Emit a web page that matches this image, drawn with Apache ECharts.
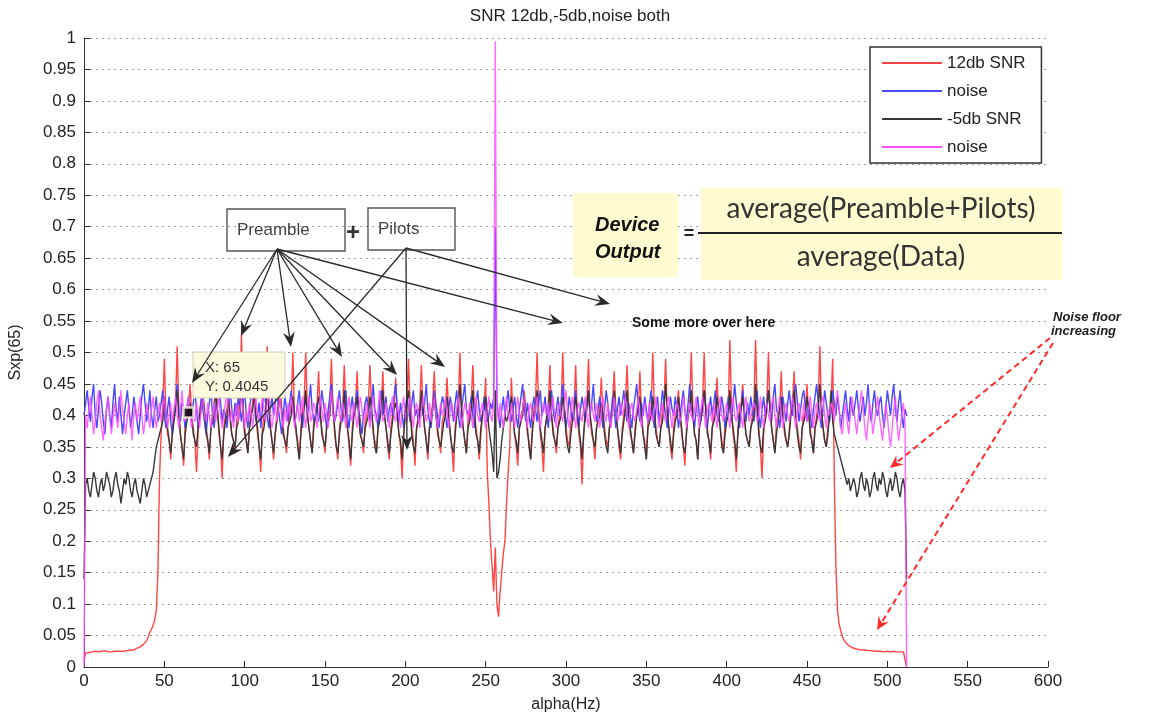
<!DOCTYPE html>
<html>
<head>
<meta charset="utf-8">
<script src="https://cdn.jsdelivr.net/npm/echarts/dist/echarts.min.js"></script>
<style>html,body{margin:0;padding:0;background:#fff}#chart{width:1152px;height:721px}</style>
</head>
<body>
<div id="chart"></div>
<script>
// ---------- DATA (alpha in Hz, one sample per Hz, 0..512) ----------
const alphaStepHz = 1;
const xRange = [0, 600, 50];
const yRange = [0, 1, 0.05];
const titleText = 'SNR 12db,-5db,noise both';
const xName = 'alpha(Hz)';
const yName = 'Sxp(65)';
const legendLabels = ['12db SNR', 'noise', '-5db SNR', 'noise'];

const red12dbSNR = [
.01,.022,.024,.023,.025,.024,.023,.025,.026,.024,.023,.025,.024,.026,.025,.024,
.025,.024,.025,.025,.024,.025,.026,.025,.024,.025,.025,.026,.026,.027,.027,.027,
.028,.03,.031,.032,.034,.036,.038,.042,.048,.055,.06,.066,.075,.09,.15,.3,
.37,.41,.49,.40,.37,.36,.33,.38,.40,.42,.51,.41,.37,.35,.32,.39,
.40,.41,.45,.40,.38,.36,.31,.37,.41,.42,.44,.40,.37,.36,.33,.38,
.40,.42,.46,.41,.37,.35,.30,.38,.40,.41,.44,.39,.37,.36,.34,.39,
.41,.42,.53,.41,.38,.36,.34,.38,.40,.42,.47,.40,.37,.35,.31,.38,
.40,.41,.51,.42,.38,.36,.33,.37,.40,.42,.46,.41,.38,.36,.34,.38,
.40,.42,.50,.40,.37,.36,.33,.38,.41,.42,.50,.41,.38,.36,.34,.39,
.40,.41,.47,.40,.38,.36,.34,.38,.40,.42,.49,.41,.37,.35,.33,.38,
.40,.41,.48,.41,.38,.35,.32,.38,.41,.42,.47,.40,.37,.36,.34,.39,
.40,.42,.48,.41,.37,.36,.34,.38,.40,.41,.47,.40,.38,.35,.33,.38,
.40,.41,.46,.40,.37,.35,.30,.37,.41,.42,.49,.41,.38,.36,.32,.38,
.40,.42,.48,.41,.38,.36,.33,.38,.40,.42,.47,.41,.37,.36,.34,.39,
.40,.41,.46,.40,.37,.35,.31,.38,.41,.42,.50,.41,.38,.36,.34,.39,
.40,.42,.48,.41,.38,.36,.33,.37,.40,.41,.46,.31,.26,.20,.16,.12,
.19,.10,.08,.12,.15,.18,.20,.26,.31,.35,.46,.40,.37,.35,.32,.38,
.40,.41,.44,.40,.37,.36,.33,.38,.41,.42,.50,.41,.37,.35,.31,.38,
.40,.42,.48,.40,.38,.36,.34,.38,.40,.42,.50,.41,.38,.36,.35,.39,
.40,.41,.48,.40,.37,.35,.29,.37,.41,.42,.49,.40,.37,.36,.33,.38,
.40,.41,.46,.40,.38,.36,.35,.38,.40,.42,.47,.41,.38,.35,.33,.38,
.40,.42,.48,.41,.37,.36,.34,.38,.40,.41,.47,.40,.37,.36,.33,.39,
.40,.41,.50,.41,.38,.36,.35,.38,.41,.42,.49,.40,.38,.35,.33,.38,
.40,.41,.44,.40,.37,.35,.32,.38,.40,.42,.50,.41,.37,.36,.33,.38,
.40,.42,.50,.41,.38,.36,.33,.38,.40,.41,.46,.40,.38,.36,.34,.39,
.40,.41,.52,.41,.37,.35,.31,.38,.41,.42,.45,.40,.37,.36,.35,.38,
.40,.42,.52,.41,.38,.35,.30,.37,.40,.42,.50,.41,.38,.36,.34,.39,
.40,.41,.47,.40,.37,.36,.35,.38,.41,.42,.47,.40,.38,.36,.33,.38,
.40,.41,.45,.40,.38,.36,.34,.38,.40,.42,.51,.41,.38,.36,.35,.38,
.40,.42,.49,.30,.16,.09,.068,.058,.048,.043,.039,.036,.034,.032,.031,.03,
.029,.029,.028,.028,.027,.027,.027,.026,.026,.026,.026,.025,.025,.025,.025,.025,
.025,.025,.024,.024,.025,.024,.024,.024,.025,.024,.024,.024,.024,.024,.024,.024,
0];

const noiseBlue = [
.40,.42,.44,.41,.39,.43,.45,.40,.38,.41,.44,.42,.39,.37,.41,.43,
.40,.38,.42,.45,.41,.39,.43,.40,.37,.40,.42,.44,.41,.38,.40,.43,
.41,.39,.37,.40,.43,.45,.42,.39,.41,.44,.40,.38,.41,.43,.39,.40,
.42,.44,.40,.38,.41,.43,.39,.37,.40,.42,.45,.41,.39,.42,.40,.38,
.41,.43,.40,.39,.42,.44,.41,.38,.40,.43,.41,.39,.37,.40,.42,.44,
.40,.38,.41,.43,.45,.42,.39,.41,.40,.38,.42,.44,.41,.39,.42,.40,
.43,.41,.39,.42,.44,.40,.38,.41,.43,.45,.42,.39,.40,.42,.38,.41,
.44,.42,.40,.38,.41,.43,.40,.42,.45,.41,.39,.37,.40,.43,.41,.39,
.42,.44,.41,.39,.40,.42,.44,.40,.38,.41,.43,.40,.42,.45,.41,.39,
.40,.42,.39,.41,.44,.42,.40,.38,.41,.43,.45,.41,.39,.40,.42,.44,
.41,.39,.42,.44,.40,.38,.41,.43,.40,.42,.44,.41,.39,.37,.40,.42,
.43,.41,.39,.42,.45,.41,.40,.38,.42,.44,.40,.41,.43,.39,.41,.42,
.40,.43,.45,.41,.39,.42,.40,.38,.41,.43,.41,.39,.42,.44,.40,.41,
.39,.41,.43,.40,.42,.45,.41,.39,.38,.41,.44,.42,.40,.38,.41,.43,
.42,.40,.38,.41,.43,.41,.39,.42,.44,.40,.38,.41,.43,.45,.41,.40,
.41,.43,.40,.38,.42,.44,.41,.39,.40,.43,.41,.39,.40,.42,.41,.43,
.70,.42,.40,.38,.41,.43,.40,.42,.44,.41,.39,.41,.43,.40,.38,.41,
.43,.45,.41,.39,.42,.40,.38,.41,.43,.41,.39,.42,.44,.40,.41,.43,
.40,.38,.42,.44,.41,.39,.41,.43,.40,.42,.45,.41,.38,.40,.43,.41,
.39,.42,.44,.40,.38,.41,.43,.41,.39,.42,.44,.40,.42,.45,.41,.39,
.41,.43,.40,.38,.41,.44,.42,.39,.40,.43,.41,.38,.41,.43,.40,.42,
.44,.41,.39,.42,.40,.38,.41,.43,.45,.41,.39,.42,.40,.43,.41,.39,
.42,.44,.40,.38,.41,.43,.39,.41,.44,.42,.40,.38,.41,.43,.41,.40,
.43,.41,.38,.40,.42,.44,.41,.39,.42,.45,.41,.40,.38,.41,.43,.40,
.39,.42,.44,.41,.38,.41,.43,.40,.42,.44,.40,.39,.41,.43,.41,.38,
.40,.43,.41,.39,.42,.45,.42,.40,.38,.41,.44,.41,.39,.42,.40,.43,
.41,.39,.42,.44,.40,.38,.41,.43,.40,.42,.44,.41,.39,.43,.45,.41,
.40,.38,.41,.43,.41,.39,.42,.44,.41,.40,.43,.45,.42,.39,.41,.43,
.44,.41,.39,.42,.40,.38,.41,.43,.45,.42,.40,.38,.41,.44,.42,.40,
.39,.41,.44,.42,.40,.43,.41,.38,.40,.42,.44,.41,.39,.43,.41,.40,
.42,.44,.41,.39,.41,.43,.40,.42,.45,.41,.39,.42,.44,.41,.40,.42,
.43,.40,.38,.41,.44,.42,.40,.43,.45,.41,.39,.42,.44,.40,.38,.41,
.40];

const black5dbSNR = [
.14,.29,.30,.28,.27,.29,.31,.30,.28,.27,.29,.30,.28,.29,.31,.30,
.29,.27,.28,.30,.31,.29,.28,.26,.28,.30,.29,.31,.30,.28,.27,.29,
.30,.28,.27,.26,.28,.30,.29,.27,.28,.29,.30,.31,.33,.35,.36,.37,
.37,.39,.43,.40,.38,.36,.34,.37,.39,.41,.44,.40,.37,.35,.33,.37,
.39,.40,.42,.40,.37,.36,.35,.38,.40,.41,.43,.41,.38,.36,.34,.38,
.38,.40,.44,.41,.38,.35,.33,.37,.39,.40,.42,.40,.37,.36,.35,.38,
.39,.41,.45,.40,.37,.36,.34,.38,.40,.41,.43,.40,.38,.35,.33,.37,
.38,.40,.44,.41,.38,.36,.34,.37,.39,.41,.43,.41,.37,.36,.35,.38,
.39,.40,.43,.40,.38,.35,.33,.37,.40,.41,.44,.40,.38,.36,.34,.38,
.38,.41,.43,.41,.37,.36,.35,.38,.39,.40,.44,.41,.38,.35,.34,.37,
.39,.40,.44,.40,.38,.36,.33,.37,.40,.41,.43,.40,.37,.36,.35,.38,
.38,.40,.43,.41,.38,.35,.34,.38,.39,.41,.44,.40,.38,.36,.34,.37,
.39,.41,.42,.40,.37,.36,.33,.37,.40,.40,.44,.41,.37,.35,.34,.38,
.38,.40,.44,.41,.38,.36,.34,.38,.39,.41,.43,.40,.38,.36,.35,.37,
.39,.40,.43,.40,.37,.35,.34,.37,.40,.41,.45,.41,.38,.36,.34,.38,
.39,.41,.44,.40,.37,.36,.34,.38,.40,.41,.43,.41,.38,.36,.34,.31,
.44,.30,.31,.33,.36,.38,.40,.39,.40,.41,.43,.40,.37,.36,.34,.38,
.39,.40,.43,.41,.38,.35,.33,.37,.40,.41,.44,.40,.38,.36,.34,.38,
.38,.41,.44,.40,.37,.36,.35,.38,.39,.40,.43,.41,.37,.35,.34,.37,
.39,.40,.43,.41,.38,.36,.33,.37,.40,.41,.44,.40,.38,.36,.35,.38,
.38,.40,.42,.40,.37,.35,.34,.38,.39,.41,.44,.41,.38,.36,.34,.37,
.39,.41,.44,.40,.38,.36,.34,.37,.40,.40,.43,.40,.37,.35,.33,.38,
.38,.40,.43,.41,.37,.36,.35,.38,.39,.41,.45,.41,.38,.36,.34,.37,
.39,.40,.43,.40,.38,.35,.34,.37,.40,.41,.44,.40,.37,.36,.33,.38,
.38,.41,.44,.41,.37,.36,.34,.38,.39,.40,.43,.41,.38,.35,.34,.37,
.39,.40,.44,.40,.38,.36,.33,.37,.40,.41,.43,.40,.37,.36,.35,.38,
.38,.40,.45,.41,.37,.35,.34,.38,.39,.41,.44,.41,.38,.36,.34,.37,
.39,.41,.43,.40,.38,.36,.35,.37,.40,.40,.44,.40,.37,.35,.34,.38,
.38,.40,.43,.41,.37,.36,.34,.38,.39,.41,.45,.41,.38,.36,.35,.37,
.40,.44,.39,.37,.36,.35,.34,.33,.32,.31,.30,.29,.30,.28,.29,.30,
.29,.27,.28,.30,.31,.29,.28,.30,.29,.27,.28,.30,.31,.29,.28,.30,
.29,.31,.30,.28,.27,.29,.30,.28,.29,.31,.30,.28,.27,.29,.30,.28,
.14];

const noiseMagenta = [
0,.40,.38,.41,.43,.40,.37,.39,.42,.44,.40,.38,.36,.39,.41,.43,
.40,.37,.39,.42,.40,.38,.41,.44,.41,.39,.37,.40,.42,.39,.36,.40,
.42,.39,.41,.43,.40,.37,.39,.42,.40,.38,.41,.43,.40,.38,.40,.42,
.39,.41,.43,.40,.38,.40,.42,.39,.41,.43,.40,.38,.41,.44,.40,.39,
.41,.43,.40,.38,.41,.39,.42,.40,.38,.41,.43,.40,.39,.42,.40,.38,
.40,.42,.39,.41,.43,.40,.38,.40,.42,.44,.40,.39,.41,.38,.40,.42,
.39,.41,.43,.40,.38,.41,.39,.42,.40,.38,.41,.43,.40,.39,.41,.43,
.41,.39,.42,.44,.40,.38,.40,.42,.39,.41,.43,.40,.38,.41,.39,.42,
.40,.43,.41,.38,.40,.42,.39,.41,.43,.40,.38,.41,.43,.39,.40,.42,
.41,.38,.40,.43,.41,.39,.42,.40,.38,.41,.44,.40,.39,.41,.43,.40,
.39,.42,.40,.38,.41,.43,.40,.39,.42,.40,.38,.41,.43,.41,.39,.40,
.42,.40,.38,.41,.43,.40,.39,.41,.44,.41,.39,.40,.42,.40,.38,.41,
.43,.40,.39,.42,.40,.38,.41,.43,.40,.39,.41,.43,.40,.38,.41,.42,
.40,.38,.41,.43,.41,.39,.40,.42,.39,.41,.43,.40,.38,.40,.42,.40,
.41,.43,.40,.38,.41,.42,.40,.39,.41,.43,.40,.38,.40,.42,.41,.39,
.42,.40,.38,.41,.43,.40,.39,.41,.42,.40,.38,.41,.43,.40,.39,.42,
.995,.41,.39,.42,.40,.38,.41,.43,.40,.39,.42,.40,.38,.41,.43,.40,
.39,.41,.43,.40,.38,.41,.42,.40,.39,.41,.43,.40,.38,.40,.42,.41,
.40,.42,.39,.41,.43,.40,.38,.41,.42,.40,.39,.42,.44,.40,.38,.41,
.43,.40,.38,.41,.42,.40,.39,.41,.43,.40,.38,.41,.42,.40,.39,.42,
.40,.38,.41,.43,.40,.39,.42,.40,.38,.41,.43,.41,.39,.40,.42,.40,
.41,.43,.40,.38,.41,.42,.40,.39,.41,.43,.40,.38,.41,.42,.40,.39,
.42,.40,.39,.41,.43,.40,.38,.41,.42,.40,.39,.42,.43,.40,.38,.41,
.40,.42,.41,.39,.40,.43,.41,.38,.40,.42,.40,.39,.41,.43,.40,.38,
.41,.43,.40,.38,.41,.42,.40,.39,.42,.40,.38,.41,.43,.40,.39,.41,
.42,.40,.38,.41,.43,.40,.39,.41,.42,.40,.38,.41,.43,.41,.39,.40,
.40,.42,.41,.39,.40,.43,.40,.38,.41,.42,.40,.39,.42,.43,.40,.38,
.41,.43,.40,.38,.41,.42,.40,.39,.41,.43,.40,.38,.41,.42,.40,.39,
.42,.40,.39,.41,.43,.40,.38,.41,.42,.40,.39,.42,.43,.40,.38,.41,
.40,.42,.41,.39,.42,.44,.41,.38,.37,.40,.42,.39,.37,.40,.43,.41,
.39,.37,.40,.42,.44,.41,.38,.36,.39,.42,.40,.37,.39,.41,.43,.40,
.38,.36,.39,.42,.40,.37,.35,.38,.41,.43,.39,.36,.38,.40,.42,.39,
0];

// data tip shown on the -5db SNR trace
const dataTipX = [65];
const dataTipY = [0.4045];

// ---------- STYLE ----------
const FONT = 'Liberation Sans';
const seriesColors = ['#ff4545', '#4848ff', '#383838', '#ff4dff'];
const seriesOpacity = [1, 1, 1, 0.85];
const seriesKeys = ['s12', 'n1', 's5', 'n2'];
const seriesData = [red12dbSNR, noiseBlue, black5dbSNR, noiseMagenta];

const toPairs = arr => arr.map((v, i) => [i * alphaStepHz, v]);

function arrow(x1, y1, x2, y2, color, width, dash, L, W) {
  const dx = x2 - x1, dy = y2 - y1, len = Math.hypot(dx, dy);
  const ux = dx / len, uy = dy / len;
  const bx = x2 - ux * L, by = y2 - uy * L;
  const nx = x2 - ux * L * 0.65, ny = y2 - uy * L * 0.65;
  return [
    {type: 'line', z: 100, shape: {x1: x1, y1: y1, x2: nx, y2: ny},
     style: {stroke: color, lineWidth: width, lineDash: dash || null}},
    {type: 'polygon', z: 101, shape: {points: [[x2, y2], [bx - uy * W, by + ux * W], [nx, ny], [bx + uy * W, by - ux * W]]},
     style: {fill: color}}
  ];
}
function txt(x, y, text, o) {
  o = o || {};
  const align = o.align || 'left';
  return {type: 'text', z: 102, x: x, y: y, style: {
    text: text, fill: o.color || '#222', fontSize: o.size || 16, fontFamily: o.family || FONT,
    fontWeight: o.weight || 'normal', fontStyle: o.style || 'normal',
    align: align, textAlign: align, verticalAlign: 'middle', textVerticalAlign: 'middle'}};
}
function box(x, y, w, h, fill, stroke, lw) {
  return {type: 'rect', z: 99, shape: {x: x, y: y, width: w, height: h},
          style: {fill: fill || 'transparent', stroke: stroke || null, lineWidth: lw || 0}};
}

const P0 = [277, 249], Q0 = [406, 248];
const blk = '#2a2a2a';
let graphics = [];
// data tip box
graphics.push(box(193, 352, 92, 46, '#fbfadf', '#cfcfb8', 1));
graphics.push(txt(205, 368, 'X: 65', {size: 15, color: '#333'}));
graphics.push(txt(205, 387, 'Y: 0.4045', {size: 15, color: '#333'}));
// Preamble + Pilots
graphics.push(box(227, 209, 118, 42, null, '#555', 1.4));
graphics.push(box(368, 208, 87, 42, null, '#555', 1.4));
graphics.push(txt(237, 230, 'Preamble', {size: 17, color: '#444'}));
graphics.push(txt(378, 229, 'Pilots', {size: 17, color: '#444'}));
graphics.push(txt(353, 233, '+', {size: 24, weight: 'bold', color: '#333', align: 'center'}));
// arrows from Preamble
[[192, 383], [241, 336], [291, 347], [342, 357], [397, 375], [445, 367], [563, 323]].forEach(p => {
  graphics = graphics.concat(arrow(P0[0], P0[1], p[0], p[1], blk, 1.3, null, 15, 6));
});
// arrows from Pilots
[[228, 457], [407, 450], [610, 304]].forEach(p => {
  graphics = graphics.concat(arrow(Q0[0], Q0[1], p[0], p[1], blk, 1.3, null, 15, 6));
});
// Device output formula
graphics.push(box(573, 193, 105, 84, '#fdfbcf'));
graphics.push(box(701, 188, 361, 92, '#fdfbcf'));
graphics.push(txt(595, 225, 'Device', {size: 20, weight: 'bold', style: 'italic', color: '#111'}));
graphics.push(txt(595, 252, 'Output', {size: 20, weight: 'bold', style: 'italic', color: '#111'}));
graphics.push(txt(689, 234, '=', {size: 18, weight: 'bold', color: '#222', align: 'center'}));
graphics.push(txt(881, 209, 'average(Preamble+Pilots)', {size: 28, family: 'Lato', color: '#333', align: 'center'}));
graphics.push({type: 'line', z: 100, shape: {x1: 698, y1: 233, x2: 1062, y2: 233}, style: {stroke: '#222', lineWidth: 2}});
graphics.push(txt(881, 257, 'average(Data)', {size: 28, family: 'Lato', color: '#333', align: 'center'}));
// other notes
graphics.push(txt(632, 323, 'Some more over here', {size: 14, weight: 'bold', color: '#111'}));
graphics.push(txt(1053, 317, 'Noise floor', {size: 13, weight: 'bold', style: 'italic', color: '#222'}));
graphics.push(txt(1051, 331, 'increasing', {size: 13, weight: 'bold', style: 'italic', color: '#222'}));
graphics = graphics.concat(arrow(1050, 338, 890, 468, '#ff2a2a', 2, [6, 4], 13, 6));
graphics = graphics.concat(arrow(1053, 343, 877, 630, '#ff2a2a', 2, [6, 4], 13, 6));

const series = seriesKeys.map((k, i) => ({
  name: k, type: 'line', data: toPairs(seriesData[i]), showSymbol: false, symbol: 'none',
  lineStyle: {width: 1.4, color: seriesColors[i], opacity: seriesOpacity[i]}, itemStyle: {color: seriesColors[i]},
  silent: true, clip: true, z: 2
}));
series.push({
  name: 'tip', type: 'scatter', data: dataTipX.map((x, i) => [x, dataTipY[i]]),
  symbol: 'rect', symbolSize: 10, itemStyle: {color: '#000', borderColor: '#fffbe0', borderWidth: 2.5}, z: 5, silent: true
});

const chart = echarts.init(document.getElementById('chart'), null, {renderer: 'canvas'});
chart.setOption({
  animation: false,
  backgroundColor: '#fff',
  title: {text: titleText, left: 565, top: 3, textAlign: 'center',
          textStyle: {fontFamily: FONT, fontSize: 17, fontWeight: 'normal', color: '#222'}},
  grid: {left: 83, right: 104, top: 38, bottom: 54},
  legend: {
    orient: 'vertical', left: 870, top: 47,
    data: seriesKeys,
    formatter: name => legendLabels[seriesKeys.indexOf(name)],
    icon: 'rect', itemWidth: 60, itemHeight: 2, itemGap: 8,
    padding: [6, 16, 6, 12],
    backgroundColor: '#fff', borderColor: '#333', borderWidth: 1.5,
    textStyle: {fontFamily: FONT, fontSize: 17, color: '#222', lineHeight: 20},
    selectedMode: false
  },
  xAxis: {
    type: 'value', min: xRange[0], max: xRange[1], interval: xRange[2],
    name: xName, nameLocation: 'middle', nameGap: 30,
    nameTextStyle: {fontFamily: FONT, fontSize: 16, color: '#222'},
    axisLine: {lineStyle: {color: '#333', width: 1}},
    axisTick: {inside: true, length: 6, lineStyle: {color: '#333'}},
    axisLabel: {margin: 6, fontFamily: FONT, fontSize: 17, color: '#222'},
    splitLine: {show: false}
  },
  yAxis: {
    type: 'value', min: yRange[0], max: yRange[1], interval: yRange[2],
    name: yName, nameLocation: 'middle', nameGap: 60, nameRotate: 90,
    nameTextStyle: {fontFamily: FONT, fontSize: 16, color: '#222'},
    axisLine: {show: true, lineStyle: {color: '#333', width: 1}},
    axisTick: {show: true, inside: true, length: 6, lineStyle: {color: '#333'}},
    axisLabel: {margin: 8, fontFamily: FONT, fontSize: 17, color: '#222',
                formatter: v => String(Math.round(v * 100) / 100)},
    splitLine: {show: true, lineStyle: {color: '#9a9a9a', type: [2, 4], width: 1.2}}
  },
  series: series,
  graphic: graphics
});
</script>
</body>
</html>
